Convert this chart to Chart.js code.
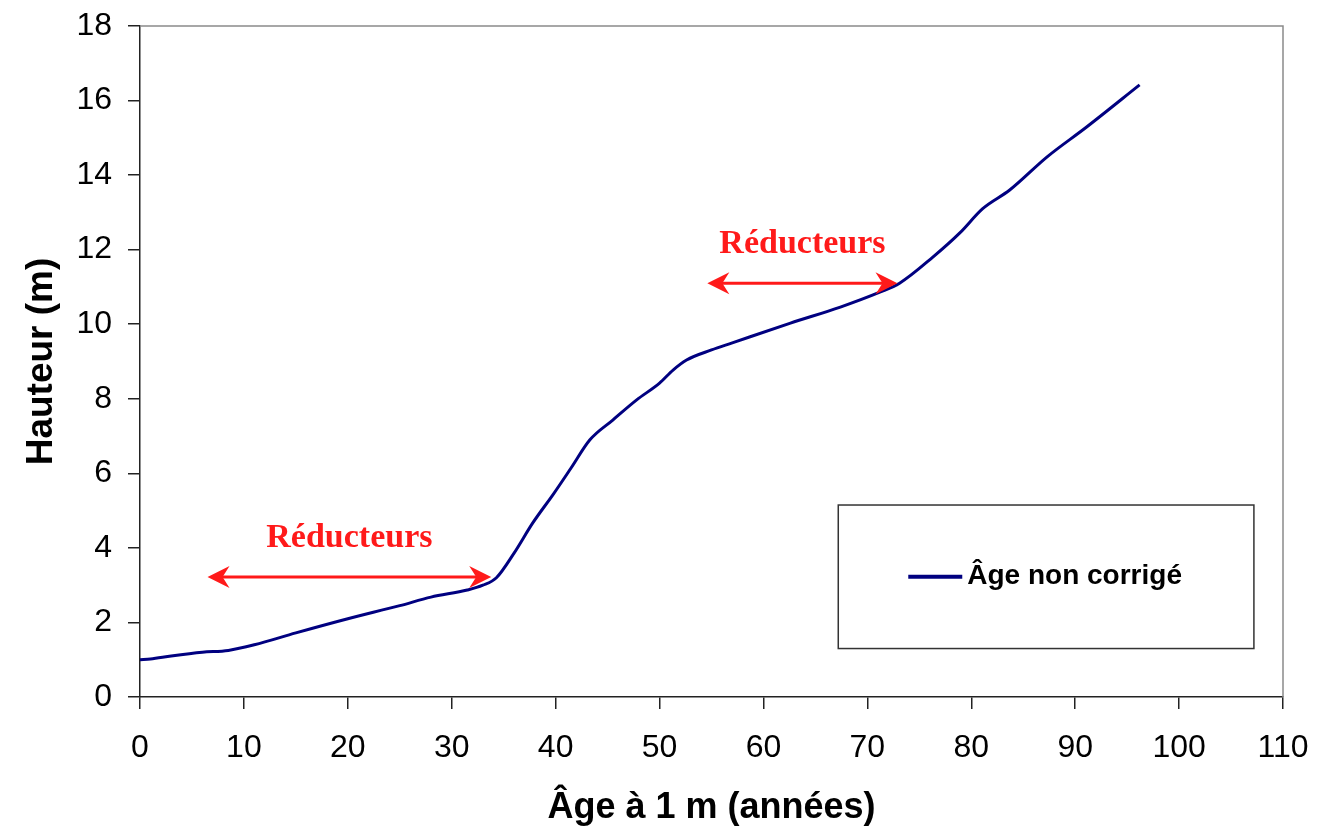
<!DOCTYPE html>
<html>
<head>
<meta charset="utf-8">
<script src="https://cdn.jsdelivr.net/npm/chart.js@4"></script>
<style>
  html, body { margin: 0; padding: 0; background: #fff; }
  #wrap { width: 1317px; height: 834px; }
</style>
</head>
<body>
<div id="wrap"><canvas id="myChart" width="1317" height="834"></canvas></div>
<script>
// valeurs
const ages = [0, 1, 3, 6, 8.5, 11, 15, 20, 25, 28, 31.5, 33, 34.3, 36, 37.8, 39.8, 41.5, 43.3, 45.5, 47.8, 50, 51.3, 52.6, 55, 57, 62.6, 67.4, 71.2, 73.1, 76.3, 78.9, 81.1, 83.7, 87.3, 91.1, 96.2];
const hauteurs = [1.0, 1.02, 1.1, 1.2, 1.25, 1.4, 1.72, 2.1, 2.45, 2.68, 2.87, 3.0, 3.2, 3.86, 4.67, 5.45, 6.15, 6.9, 7.43, 7.97, 8.42, 8.77, 9.04, 9.31, 9.5, 10.03, 10.46, 10.86, 11.1, 11.8, 12.45, 13.1, 13.6, 14.49, 15.29, 16.42];
const nomSerie = 'Âge non corrigé';

// flèches "Réducteurs" : [x début, x fin, y flèche, y texte]
const reducteurs = [
    [6.5, 33.8, 3.22, 4.27],
    [54.6, 72.9, 11.1, 12.15]
];

const points = ages.map((a, i) => ({ x: a, y: hauteurs[i] }));

function pointeFleche(ctx, x, y, dir) {
    ctx.beginPath();
    ctx.moveTo(x, y);
    ctx.lineTo(x - dir * 22, y - 11);
    ctx.lineTo(x - dir * 15, y);
    ctx.lineTo(x - dir * 22, y + 11);
    ctx.closePath();
    ctx.fill();
}

const annotations = {
    id: 'annotations',
    afterDatasetsDraw(chart) {
        const ctx = chart.ctx;
        const xs = chart.scales.x;
        const ys = chart.scales.y;
        const area = chart.chartArea;
        ctx.save();

        // cadre gris haut / droite
        ctx.strokeStyle = '#8a8a8a';
        ctx.lineWidth = 1.5;
        ctx.beginPath();
        ctx.moveTo(area.left, area.top);
        ctx.lineTo(area.right, area.top);
        ctx.lineTo(area.right, area.bottom);
        ctx.stroke();

        // flèches rouges
        ctx.strokeStyle = '#ff1a1a';
        ctx.fillStyle = '#ff1a1a';
        ctx.lineWidth = 3;
        ctx.font = 'bold 34px "Liberation Serif", "Times New Roman", serif';
        ctx.textAlign = 'center';
        ctx.textBaseline = 'middle';
        reducteurs.forEach(r => {
            const x1 = xs.getPixelForValue(r[0]);
            const x2 = xs.getPixelForValue(r[1]);
            const y = ys.getPixelForValue(r[2]);
            ctx.beginPath();
            ctx.moveTo(x1 + 10, y);
            ctx.lineTo(x2 - 10, y);
            ctx.stroke();
            pointeFleche(ctx, x1, y, -1);
            pointeFleche(ctx, x2, y, 1);
            ctx.fillText('Réducteurs', (x1 + x2) / 2, ys.getPixelForValue(r[3]));
        });

        // légende
        const lx = xs.getPixelForValue(67.2);
        const rx = xs.getPixelForValue(107.2);
        const ty = ys.getPixelForValue(5.15);
        const by = ys.getPixelForValue(1.3);
        ctx.fillStyle = '#fff';
        ctx.fillRect(lx, ty, rx - lx, by - ty);
        ctx.strokeStyle = '#333';
        ctx.lineWidth = 1.5;
        ctx.strokeRect(lx, ty, rx - lx, by - ty);
        const my = (ty + by) / 2;
        ctx.strokeStyle = '#000080';
        ctx.lineWidth = 4;
        ctx.beginPath();
        ctx.moveTo(lx + 70, my);
        ctx.lineTo(lx + 124, my);
        ctx.stroke();
        ctx.fillStyle = '#000';
        ctx.font = 'bold 28px "Liberation Sans", Arial, sans-serif';
        ctx.textAlign = 'left';
        ctx.fillText(nomSerie, lx + 129, my);

        ctx.restore();
    }
};

const config = {
    type: 'scatter',
    data: {
        datasets: [
            {
                label: nomSerie,
                data: points,
                showLine: true,
                borderColor: '#000080',
                borderWidth: 3,
                pointRadius: 0,
                cubicInterpolationMode: 'monotone'
            }
        ]
    },
    options: {
        responsive: false,
        animation: false,
        layout: { padding: { top: 26, right: 34, left: 0, bottom: 0 } },
        plugins: {
            legend: { display: false },
            tooltip: { enabled: false }
        },
        scales: {
            x: {
                type: 'linear',
                min: 0,
                max: 110,
                ticks: {
                    stepSize: 10,
                    color: '#000',
                    padding: 20,
                    font: { family: '"Liberation Sans", Arial, sans-serif', size: 32 }
                },
                grid: { drawOnChartArea: false, tickLength: 12, color: '#222', lineWidth: 1.5 },
                border: { color: '#222', width: 1.5 },
                title: {
                    display: true,
                    text: 'Âge à 1 m (années)',
                    color: '#000',
                    padding: { top: 4, bottom: 4 },
                    font: { family: '"Liberation Sans", Arial, sans-serif', size: 36, weight: 'bold' }
                },
                afterFit(scale) {
                    scale.height = 137;
                    scale.paddingLeft = 0;
                    scale.paddingRight = 0;
                }
            },
            y: {
                min: 0,
                max: 18,
                ticks: {
                    stepSize: 2,
                    color: '#000',
                    padding: 16,
                    font: { family: '"Liberation Sans", Arial, sans-serif', size: 32 }
                },
                grid: { drawOnChartArea: false, tickLength: 12, color: '#222', lineWidth: 1.5 },
                border: { color: '#222', width: 1.5 },
                title: {
                    display: true,
                    text: 'Hauteur (m)',
                    color: '#000',
                    padding: { top: 20, bottom: 4 },
                    font: { family: '"Liberation Sans", Arial, sans-serif', size: 37, weight: 'bold' }
                },
                afterFit(scale) {
                    scale.width = 140;
                    scale.paddingTop = 0;
                    scale.paddingBottom = 0;
                }
            }
        }
    },
    plugins: [annotations]
};

const chartDOM = document.getElementById('myChart');
const myLineChart = new Chart(chartDOM, config);
</script>
</body>
</html>
